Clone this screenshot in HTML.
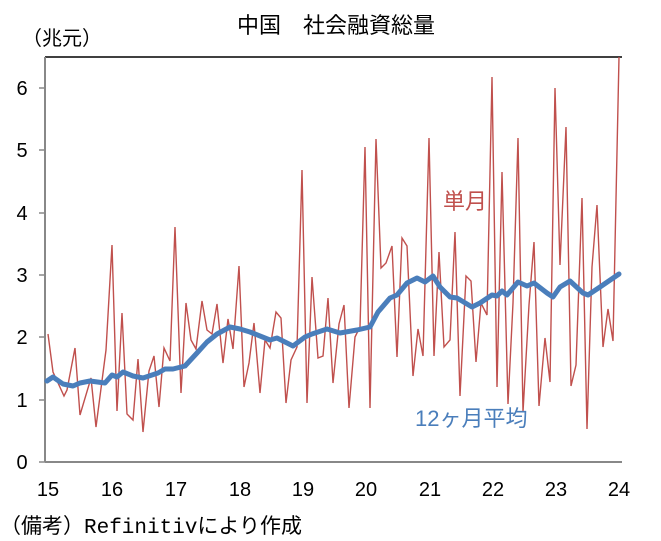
<!DOCTYPE html>
<html><head><meta charset="utf-8"><style>
html,body{margin:0;padding:0;background:#fff;}
svg{display:block;font-family:"Liberation Sans","Noto Sans CJK JP",sans-serif;}
</style></head><body>
<svg width="661" height="541" viewBox="0 0 661 541" xmlns="http://www.w3.org/2000/svg">
<text x="336" y="33" font-size="22" text-anchor="middle" fill="#000">中国　社会融資総量</text>
<text x="22" y="45" font-size="20" fill="#000">（兆元）</text>
<line x1="45" y1="57" x2="622" y2="57" stroke="#000" stroke-width="1.5"/>
<line x1="45" y1="57" x2="45" y2="462" stroke="#888" stroke-width="2"/>
<line x1="45" y1="462" x2="622" y2="462" stroke="#888" stroke-width="2"/>
<g stroke="#888" stroke-width="1.5">
<line x1="39" y1="88" x2="45" y2="88"/><line x1="39" y1="150" x2="45" y2="150"/><line x1="39" y1="213" x2="45" y2="213"/><line x1="39" y1="275" x2="45" y2="275"/><line x1="39" y1="337" x2="45" y2="337"/><line x1="39" y1="400" x2="45" y2="400"/><line x1="39" y1="462" x2="45" y2="462"/>
</g>
<g font-size="20" text-anchor="middle" fill="#000">
<text x="22" y="95">6</text><text x="22" y="157">5</text><text x="22" y="220">4</text><text x="22" y="282">3</text><text x="22" y="344">2</text><text x="22" y="407">1</text><text x="22" y="469">0</text>
<text x="48" y="496">15</text><text x="112" y="496">16</text><text x="176" y="496">17</text><text x="240" y="496">18</text><text x="303" y="496">19</text><text x="366" y="496">20</text><text x="430" y="496">21</text><text x="493" y="496">22</text><text x="556" y="496">23</text><text x="619" y="496">24</text>
</g>
<polyline fill="none" stroke="#c0504d" stroke-width="1.4" points="48,334 53,372 64,396 67,390 75,348 80,415 91,378 96,427 106,350 112,245 117,411 122,313 127,414 133,420 138,359 143,432 149,371 154,356 159,407 164,348 170,361 175,227 181,393 186,303 191,340 196,349 202,301 207,330 212,334 217,304 223,363 228,319 233,349 239,266 244,387 249,363 254,323 260,393 265,340 270,348 276,312 281,318 286,403 291,360 297,347 302,170 307,403 312,277 318,358 323,356 328,298 333,383 339,324 344,305 349,408 355,337 360,327 365,147 370,408 376,139 381,268 386,263 392,246 397,357 402,238 407,246 413,376 418,329 423,356 429,138 434,356 439,252 444,347 450,340 455,232 460,396 466,276 471,281 476,362 481,303 487,315 492,77 497,387 502,172 508,404 513,303 518,138 523,412 529,305 534,242 539,406 545,338 550,382 555,88 560,265 566,127 571,386 576,365 582,198 587,429 592,267 597,205 603,347 608,309 613,341 619,57"/>
<polyline fill="none" stroke="#4a7ebb" stroke-width="5" stroke-linejoin="round" stroke-linecap="round" points="47,381 53,377 63,384 73,386 80,383 90,381 105,383 112,375 117,377 123,372 133,376 143,378 158,373 165,369 173,369 185,366 197,353 207,342 217,334 230,327 240,329 250,332 270,340 277,338 293,346 305,337 312,334 327,329 340,333 357,330 370,327 378,312 390,298 397,295 407,283 417,278 425,282 433,276 440,287 450,297 457,298 472,307 480,303 492,295 497,296 502,291 507,295 518,282 527,286 534,283 547,293 553,297 560,287 570,281 583,293 588,295 600,287 619,274"/>
<text x="443" y="209" font-size="22" fill="#c0504d">単月</text>
<text x="415" y="426" font-size="22" fill="#4a7ebb">12ヶ月平均</text>
<text x="0" y="533" font-size="21" fill="#000" font-family="'Liberation Mono','Noto Sans CJK JP',monospace">（備考）Refinitivにより作成</text>
</svg>
</body></html>
